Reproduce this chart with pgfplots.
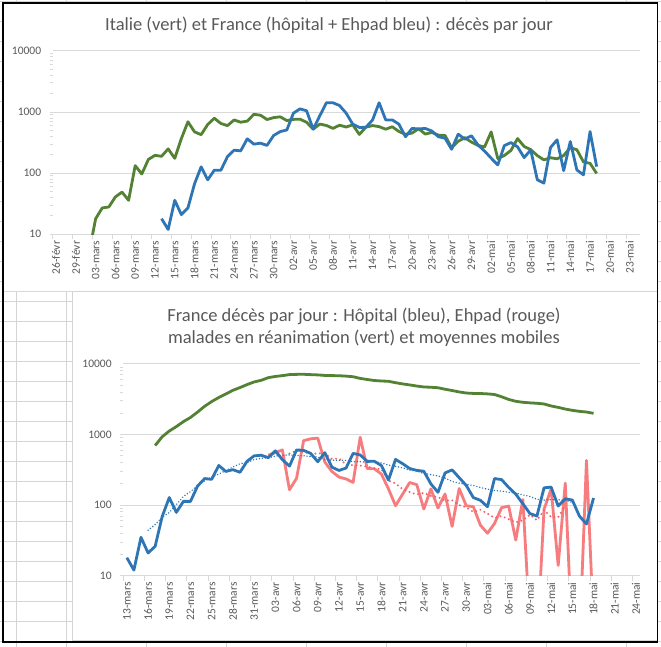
\documentclass[border=0pt]{standalone}
\usepackage{fontspec}
\setmainfont{Carlito}
\usepackage{pgfplots}
\pgfplotsset{compat=1.18}
\definecolor{itgreen}{RGB}{84,130,53}
\definecolor{frblue}{RGB}{46,117,182}
\definecolor{ehred}{RGB}{246,124,126}
\definecolor{mared}{RGB}{240,96,100}
\definecolor{txtgray}{RGB}{89,89,89}
\definecolor{gridgray}{RGB}{217,217,217}
\definecolor{cellgray}{RGB}{212,212,212}

\begin{document}
\begin{tikzpicture}[x=1pt,y=1pt]
\useasboundingbox (0,0) rectangle (661,647);
\fill[white] (0,0) rectangle (661,647);
% spreadsheet cells
\foreach \cx in {16.5,66.5,146,226,306.5,386.5,466.5,546.5,626.5}
  \draw[cellgray, line width=0.8pt] (\cx,0) -- (\cx,647);
\foreach \k in {0,...,32}
  \draw[cellgray, line width=0.8pt] (0,{645.3-20*\k}) -- (661,{645.3-20*\k});
% chart areas
\fill[white] (3,355.3) rectangle (657.7,644);
\draw[gridgray, line width=1pt] (3,355.3) -- (657.7,355.3);
\filldraw[fill=white, draw=cellgray, line width=1pt] (72.5,6.5) rectangle (657.7,355.3);
\draw[black, line width=1.5pt] (3,5) rectangle (657.7,644);

% titles
\node[font=\fontsize{18.5}{22}\selectfont, text=txtgray] at (329,622)
  {Italie (vert) et France (hôpital + Ehpad bleu) : décès par jour};
\node[font=\fontsize{18.5}{22}\selectfont, text=txtgray, align=center] at (364,319.5)
  {France décès par jour : Hôpital (bleu), Ehpad (rouge)\\malades en réanimation (vert) et moyennes mobiles};

% ---------------- top chart ----------------
\begin{axis}[
  scale only axis,
  at={(52.8pt,412.7pt)}, anchor=south west,
  width=586.7pt, height=183.3pt,
  xmin=-0.5, xmax=88.5,
  ymode=log, ymin=10, ymax=10000,
  ytick={10,100,1000,10000}, yticklabels={10,100,1000,10000},
  ymajorgrids, grid style={draw=gridgray, line width=1pt},
  axis x line*=bottom, axis y line*=left,
  y axis line style={draw=none},
  x axis line style={draw=gridgray, line width=1pt, -},
  major tick length=0pt, tick align=outside,
  tick style={draw=gridgray, line width=1pt},
  tick label style={font=\fontsize{11.5}{12}\selectfont, text=txtgray},
  /pgf/number format/assume math mode=true,
  xticklabel style={rotate=90, anchor=east, inner sep=0pt},
  xticklabel shift=6.5pt,
  yticklabel style={inner sep=0pt},
  yticklabel shift=11.5pt,
  xtick={0,3,...,87},
  xticklabels={26-févr,29-févr,03-mars,06-mars,09-mars,12-mars,15-mars,18-mars,21-mars,24-mars,27-mars,30-mars,02-avr,05-avr,08-avr,11-avr,14-avr,17-avr,20-avr,23-avr,26-avr,29-avr,02-mai,05-mai,08-mai,11-mai,14-mai,17-mai,20-mai,23-mai},
  extra x ticks={-0.5,2.5,...,86.5},
  extra x tick labels={},
  extra x tick style={major tick length=5pt},
]
% Italie
\addplot[itgreen, line width=2.8pt, line join=round] coordinates {
(5,5) (6,18) (7,27) (8,28) (9,41) (10,49) (11,36) (12,133) (13,97) (14,168)
(15,196) (16,189) (17,250) (18,175) (19,368) (20,694) (21,475) (22,427) (23,627) (24,793)
(25,651) (26,601) (27,743) (28,683) (29,712) (30,919) (31,889) (32,756) (33,812) (34,837)
(35,727) (36,760) (37,766) (38,681) (39,525) (40,636) (41,604) (42,542) (43,610) (44,570)
(45,619) (46,431) (47,566) (48,602) (49,578) (50,525) (51,575) (52,482) (53,433) (54,454)
(55,534) (56,437) (57,464) (58,420) (59,415) (60,260) (61,333) (62,382) (63,323) (64,285)
(65,269) (66,474) (67,174) (68,195) (69,236) (70,369) (71,274) (72,243) (73,194) (74,165)
(75,179) (76,172) (77,195) (78,262) (79,242) (80,153) (81,145) (82,99)};
% France hopital + Ehpad
\addplot[frblue, line width=2.8pt, line join=round] coordinates {
(16,18) (17,12) (18,36) (19,21) (20,27) (21,67) (22,127) (23,78) (24,112) (25,112)
(26,187) (27,238) (28,232) (29,365) (30,299) (31,310) (32,285) (33,414) (34,480) (35,510)
(36,960) (37,1130) (38,1050) (39,525) (40,870) (41,1420) (42,1420) (43,1280) (44,960) (45,635)
(46,560) (47,565) (48,740) (49,1420) (50,745) (51,745) (52,635) (53,395) (54,540) (55,530)
(56,540) (57,490) (58,395) (59,374) (60,246) (61,436) (62,360) (63,410) (64,290) (65,230)
(66,176) (67,137) (68,283) (69,317) (70,270) (71,180) (72,240) (73,78) (74,69) (75,263)
(76,352) (77,110) (78,330) (79,113) (80,94) (81,480) (82,128)};
\end{axis}

% ---------------- bottom chart ----------------
\begin{axis}[
  scale only axis,
  at={(123.3pt,71.3pt)}, anchor=south west,
  width=516.2pt, height=211.7pt,
  xmin=-0.5, xmax=72.5,
  ymode=log, ymin=10, ymax=10000,
  ytick={10,100,1000,10000}, yticklabels={10,100,1000,10000},
  ymajorgrids, grid style={draw=gridgray, line width=1pt},
  axis x line*=bottom, axis y line*=left,
  y axis line style={draw=none},
  x axis line style={draw=gridgray, line width=1pt, -},
  major tick length=0pt, tick align=outside,
  tick style={draw=gridgray, line width=1pt},
  tick label style={font=\fontsize{11.5}{12}\selectfont, text=txtgray},
  /pgf/number format/assume math mode=true,
  xticklabel style={rotate=90, anchor=east, inner sep=0pt},
  xticklabel shift=6.5pt,
  yticklabel style={inner sep=0pt},
  yticklabel shift=11.5pt,
  xtick={0,3,...,72},
  xticklabels={13-mars,16-mars,19-mars,22-mars,25-mars,28-mars,31-mars,03-avr,06-avr,09-avr,12-avr,15-avr,18-avr,21-avr,24-avr,27-avr,30-avr,03-mai,06-mai,09-mai,12-mai,15-mai,18-mai,21-mai,24-mai},
  extra x ticks={-0.5,2.5,...,71.5},
  extra x tick labels={},
  extra x tick style={major tick length=5pt},
]
% reanimation
\addplot[itgreen, line width=2.8pt, line join=round] coordinates {
(4,699) (5,931) (6,1122) (7,1297) (8,1525) (9,1746) (10,2082) (11,2516) (12,2935) (13,3351)
(14,3758) (15,4236) (16,4632) (17,5107) (18,5565) (19,5872) (20,6399) (21,6662) (22,6838) (23,7072)
(24,7131) (25,7148) (26,7066) (27,7004) (28,6883) (29,6845) (30,6821) (31,6730) (32,6599) (33,6248)
(34,6027) (35,5833) (36,5744) (37,5683) (38,5433) (39,5218) (40,5053) (41,4870) (42,4725) (43,4682)
(44,4608) (45,4387) (46,4207) (47,4019) (48,3878) (49,3827) (50,3819) (51,3770) (52,3696) (53,3430)
(54,3147) (55,2961) (56,2868) (57,2812) (58,2776) (59,2712) (60,2542) (61,2428) (62,2299) (63,2203)
(64,2132) (65,2087) (66,1998)};
% Ehpad
\addplot[ehred, line width=2.8pt, line join=round] coordinates {
(20,510) (21,555) (22,605) (23,165) (24,240) (25,820) (26,870) (27,890) (28,408) (29,300)
(30,250) (31,235) (32,210) (33,915) (34,330) (35,328) (36,275) (37,170) (38,98) (39,143)
(40,209) (41,195) (42,88) (43,170) (44,91) (45,144) (46,50) (47,172) (48,98) (49,95)
(50,52) (51,40) (52,55) (53,92) (54,97) (55,32) (56,120) (57,2) (58,1) (59,87)
(60,170) (61,14) (62,205) (63,1) (64,1) (65,430) (66,2)};
% Ehpad moving average
\addplot[mared, line width=2.2pt, dash pattern=on 0pt off 4.5pt, line cap=round] coordinates {
(23,538) (24,592) (25,571) (26,528) (27,540) (28,539) (29,452) (30,458) (31,378) (32,367)
(33,363) (34,352) (35,332) (36,323) (37,222) (38,203) (39,168) (40,153) (41,142) (42,149)
(43,135) (44,130) (45,116) (46,117) (47,100) (48,93) (49,80) (50,86) (51,76) (52,66)
(53,70) (54,63) (55,57) (56,61) (57,73) (58,61) (59,85) (60,68) (61,67) (62,100)};
% Hopital
\addplot[frblue, line width=2.8pt, line join=round] coordinates {
(0,18) (1,12) (2,35) (3,21) (4,26) (5,69) (6,128) (7,79) (8,113) (9,113)
(10,186) (11,238) (12,232) (13,365) (14,300) (15,318) (16,292) (17,418) (18,499) (19,509)
(20,471) (21,588) (22,441) (23,357) (24,605) (25,597) (26,541) (27,412) (28,554) (29,345)
(30,310) (31,335) (32,541) (33,514) (34,417) (35,418) (36,364) (37,227) (38,444) (39,387)
(40,330) (41,311) (42,302) (43,200) (44,152) (45,286) (46,316) (47,245) (48,190) (49,128)
(50,117) (51,95) (52,238) (53,230) (54,178) (55,143) (56,105) (57,76) (58,70) (59,176)
(60,180) (61,97) (62,123) (63,118) (64,70) (65,54) (66,126)};
% Hopital moving average
\addplot[frblue, line width=1.6pt, dash pattern=on 0pt off 3pt, line cap=round] coordinates {
(3,44.1) (4,52.9) (5,67.3) (6,78.4) (7,102) (8,132.3) (9,155.6) (10,189.4) (11,221) (12,250.3)
(13,275.9) (14,309) (15,346.3) (16,385.9) (17,401) (18,442.1) (19,459.7) (20,469) (21,495.7) (22,509.7)
(23,514.3) (24,505.9) (25,501) (26,487.3) (27,480.6) (28,442) (29,434) (30,430.1) (31,430.9) (32,411.4)
(33,414.1) (34,402.3) (35,417.9) (36,395.9) (37,369.6) (38,354.4) (39,337.9) (40,314.4) (41,303.7) (42,281.1)
(43,271) (44,258.9) (45,241.6) (46,216.7) (47,204.9) (48,196.7) (49,189.9) (50,177.6) (51,168) (52,161.3)
(53,158) (54,152.1) (55,148.6) (56,139.7) (57,132.6) (58,121) (59,118.1) (60,120) (61,119.1) (62,116.9) (63,109.7)};
\end{axis}
\end{tikzpicture}
\end{document}
